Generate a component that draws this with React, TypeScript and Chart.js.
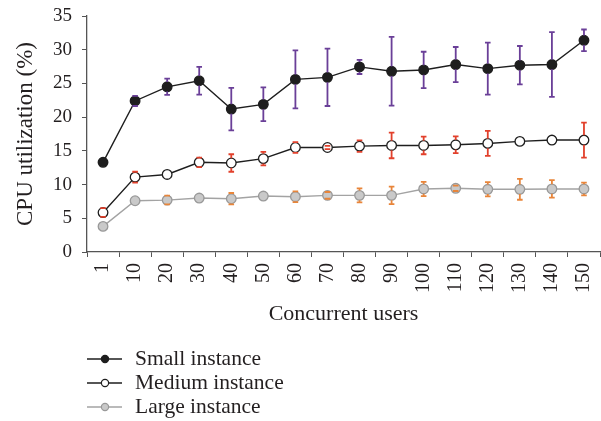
import React, { useEffect, useRef } from "react";
import { Chart, registerables } from "chart.js";

Chart.register(...registerables);

// Concurrent user counts along the x axis
const categories = ["1", "10", "20", "30", "40", "50", "60", "70", "80", "90", "100", "110", "120", "130", "140", "150"];

// Mean CPU utilization (%) per instance size
const smallValues = [13.3, 22.4, 24.5, 25.4, 21.2, 21.9, 25.6, 25.9, 27.45, 26.8, 27.0, 27.8, 27.2, 27.7, 27.8, 31.4];
const mediumValues = [5.85, 11.1, 11.5, 13.3, 13.2, 13.85, 15.5, 15.5, 15.7, 15.8, 15.8, 15.9, 16.1, 16.4, 16.6, 16.6];
const largeValues = [3.8, 7.6, 7.7, 8.0, 7.9, 8.3, 8.2, 8.4, 8.4, 8.4, 9.35, 9.45, 9.3, 9.3, 9.35, 9.35];

// Standard deviation (±) per point
const smallErr = [0, 0.75, 1.2, 2.05, 3.15, 2.5, 4.3, 4.25, 1.05, 5.1, 2.7, 2.6, 3.85, 2.85, 4.8, 1.6];
const mediumErr = [0.65, 0.8, 0, 0.7, 1.3, 1.0, 0.8, 0.25, 0.85, 1.9, 1.3, 1.25, 1.85, 0, 0, 2.6];
const largeErr = [0, 0, 0.65, 0, 0.85, 0, 0.8, 0.5, 1.05, 1.3, 1.05, 0.4, 1.05, 1.55, 1.3, 0.95];

const yTicks = [0, 5, 10, 15, 20, 25, 30, 35];

const FONT = "'Liberation Serif', 'DejaVu Serif', serif";
const TEXT = "#231f20";

const seriesStyles = [
  { label: "Small instance", line: "#1e1e1e", fill: "#1e1e1e", stroke: "#1e1e1e", err: "#6a3f98" },
  { label: "Medium instance", line: "#1e1e1e", fill: "#ffffff", stroke: "#1e1e1e", err: "#e2402b" },
  { label: "Large instance", line: "#a3a3a3", fill: "#c9c9c9", stroke: "#999999", err: "#e8853a" },
];
const errors = [smallErr, mediumErr, largeErr];

const errorBarPlugin = {
  id: "errorBars",
  afterDatasetsDraw(chart: any) {
    const { ctx } = chart;
    const yScale = chart.scales.y;
    chart.data.datasets.forEach((ds: any, di: number) => {
      const meta = chart.getDatasetMeta(di);
      const errs = errors[di];
      ctx.save();
      ctx.strokeStyle = seriesStyles[di].err;
      ctx.lineWidth = 1.8;
      meta.data.forEach((pt: any, i: number) => {
        const e = errs[i];
        if (!e) return;
        const v = ds.data[i];
        const yTop = yScale.getPixelForValue(v + e);
        const yBot = yScale.getPixelForValue(v - e);
        const yMid = yScale.getPixelForValue(v);
        const x = pt.x;
        const r = 4.8;
        ctx.beginPath();
        if (yMid - r > yTop) {
          ctx.moveTo(x, yTop);
          ctx.lineTo(x, yMid - r);
        }
        if (yMid + r < yBot) {
          ctx.moveTo(x, yMid + r);
          ctx.lineTo(x, yBot);
        }
        ctx.moveTo(x - 2.8, yTop);
        ctx.lineTo(x + 2.8, yTop);
        ctx.moveTo(x - 2.8, yBot);
        ctx.lineTo(x + 2.8, yBot);
        ctx.stroke();
      });
      ctx.restore();
    });
  },
};

const stackedLegendPlugin = {
  id: "stackedLegend",
  afterDraw(chart: any) {
    const { ctx } = chart;
    const rows = [359, 383, 407];
    ctx.save();
    seriesStyles.forEach((s, i) => {
      const y = rows[i];
      ctx.strokeStyle = s.line;
      ctx.lineWidth = 1.4;
      ctx.beginPath();
      ctx.moveTo(87, y);
      ctx.lineTo(122, y);
      ctx.stroke();
      ctx.beginPath();
      ctx.arc(105, y, 3.6, 0, Math.PI * 2);
      ctx.fillStyle = s.fill;
      ctx.fill();
      ctx.strokeStyle = s.stroke;
      ctx.lineWidth = 1.2;
      ctx.stroke();
      ctx.fillStyle = TEXT;
      ctx.font = `21.5px ${FONT}`;
      ctx.textBaseline = "middle";
      ctx.textAlign = "left";
      ctx.fillText(s.label, 135, y);
    });
    ctx.restore();
  },
};

export default function App() {
  const canvasRef = useRef<HTMLCanvasElement | null>(null);

  useEffect(() => {
    document.body.style.margin = "0";
    const canvas = canvasRef.current;
    if (!canvas) return;
    const valueSets = [smallValues, mediumValues, largeValues];
    const chart = new Chart(canvas, {
      type: "line",
      data: {
        labels: categories,
        datasets: seriesStyles.map((s, i) => ({
          label: s.label,
          data: valueSets[i],
          borderColor: s.line,
          borderWidth: 1.4,
          pointRadius: 4.8,
          pointHoverRadius: 4.8,
          pointBackgroundColor: s.fill,
          pointBorderColor: s.stroke,
          pointBorderWidth: 1.3,
          tension: 0,
          fill: false,
        })),
      },
      options: {
        animation: false,
        responsive: false,
        events: [],
        layout: { autoPadding: false, padding: { top: 16, right: 1, left: 0, bottom: 89 } },
        plugins: {
          legend: { display: false },
          tooltip: { enabled: false },
        },
        scales: {
          x: {
            type: "category",
            offset: true,
            afterFit(scale: any) {
              scale.height = 80;
              scale.paddingLeft = 0;
              scale.paddingRight = 0;
            },
            grid: {
              offset: true,
              drawOnChartArea: false,
              drawTicks: true,
              tickLength: 5,
              tickColor: "#555",
              color: "#555",
            },
            border: { color: "#555", width: 1.3 },
            ticks: {
              minRotation: 90,
              maxRotation: 90,
              autoSkip: false,
              padding: 6,
              color: TEXT,
              font: { family: FONT, size: 20 },
            },
            title: {
              display: true,
              text: "Concurrent users",
              color: TEXT,
              font: { family: FONT, size: 22 },
              padding: { top: 2, bottom: 5 },
            },
          },
          y: {
            min: 0,
            max: 35,
            afterFit(scale: any) {
              scale.width = 87;
              scale.paddingTop = 0;
              scale.paddingBottom = 0;
            },
            afterBuildTicks(scale: any) {
              scale.ticks = yTicks.map((v) => ({ value: v }));
            },
            grid: {
              drawOnChartArea: false,
              drawTicks: true,
              tickLength: 5,
              tickColor: "#555",
            },
            border: { color: "#555", width: 1.3 },
            ticks: {
              padding: 10,
              color: TEXT,
              font: { family: FONT, size: 19 },
            },
            title: {
              display: true,
              text: "CPU utilization (%)",
              color: TEXT,
              font: { family: FONT, size: 23 },
              padding: { top: 12, bottom: 0 },
            },
          },
        },
      },
      plugins: [errorBarPlugin, stackedLegendPlugin],
    });
    return () => chart.destroy();
  }, []);

  return (
    <div style={{ position: "absolute", left: 0, top: 0, width: 601, height: 421, background: "#fff" }}>
      <canvas ref={canvasRef} width={601} height={421} style={{ display: "block", width: 601, height: 421 }} />
    </div>
  );
}
